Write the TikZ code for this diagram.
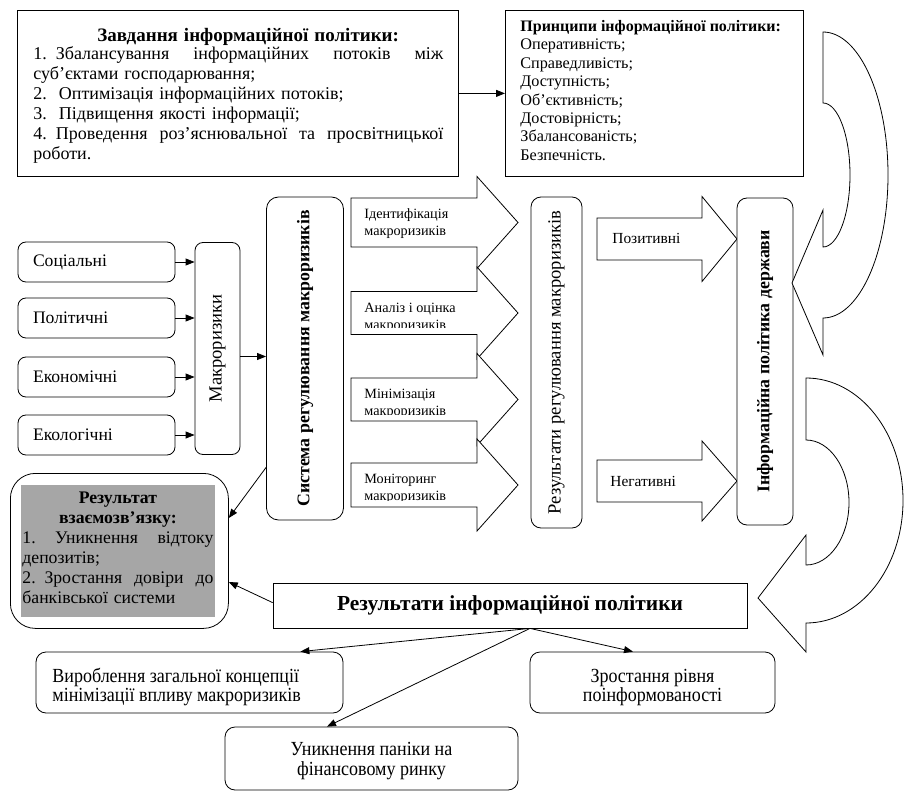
\documentclass[tikz,border=0pt]{standalone}
\usepackage{fontspec}
\setmainfont{Liberation Serif}
\newfontfamily\condfont[FakeStretch=0.9]{Liberation Serif}
\usetikzlibrary{arrows.meta,calc}
\definecolor{grayfill}{RGB}{166,166,166}
% #1 x0, #2 yc, #3 body right, #4 tip x, #5 body half height, #6 head half height
\newcommand\blockarr[6]{%
  \draw[blk] (#1,{#2-#5}) -- (#3,{#2-#5}) -- (#3,{#2-#6}) -- (#4,#2) -- (#3,{#2+#6}) -- (#3,{#2+#5}) -- (#1,{#2+#5}) -- cycle;}
% justified line of given width
\newcommand\jline[2]{\makebox[#1][s]{\spaceskip=0pt\relax #2}}
\begin{document}
\begin{tikzpicture}[x=1pt,y=-1pt,line width=0.8pt,
  arr/.style={-{Triangle[length=9pt,width=7pt]}},
  sbox/.style={draw,fill=white,inner sep=0pt},
  rbox/.style={draw,fill=white,rounded corners=8pt,inner sep=0pt},
  blk/.style={draw,fill=white,line join=miter},
  txt/.style={inner sep=0pt},
  lbl/.style={inner sep=0pt,font=\fontsize{14.2}{16}\selectfont},
]
\useasboundingbox (0,0) rectangle (904,791);

% ---------- tasks ----------
\node[sbox,anchor=north west,minimum width=441,minimum height=166] (tasks) at (17,10) {};
\node[txt,anchor=north west,text width=410,align=left,font=\fontsize{18}{20}\selectfont] (taskstxt) at (33,28) {%
\hspace*{64pt}{\bfseries\fontsize{19}{20}\selectfont Завдання інформаційної політики:}\\[-2pt]
\jline{410pt}{1. Збалансування інформаційних потоків між}\\
суб’єктами господарювання;\\
2.\ \ Оптимізація інформаційних потоків;\\
3.\ \ Підвищення якості інформації;\\
\jline{410pt}{4. Проведення роз’яснювальної та просвітницької}\\
роботи.};

% ---------- principles ----------
\node[sbox,anchor=north west,minimum width=298,minimum height=166] (princ) at (505,10) {};
\node[txt,anchor=north west,align=left,font=\fontsize{16.2}{18.4}\selectfont] (princtxt) at (520,20) {%
{\bfseries\fontsize{16}{18.4}\selectfont Принципи інформаційної політики:}\\
Оперативність;\\
Справедливість;\\
Доступність;\\
Об’єктивність;\\
Достовірність;\\
Збалансованість;\\
Безпечність.};
\draw[arr] (tasks.east) -- (princ.west);

% ---------- factors ----------
\tikzset{fbox/.style={rbox,minimum width=157,minimum height=40,text width=127,align=left,font=\fontsize{17.6}{20}\selectfont}}
\node[fbox] (soc) at (96.5,262) {Соціальні};
\node[fbox] (pol) at (96.5,318) {Політичні};
\node[fbox] (eco) at (96.5,377) {Економічні};
\node[fbox] (ecl) at (96.5,435) {Екологічні};

\node[rbox,minimum width=45,minimum height=212] (makro) at (217.5,348.5) {};
\node[txt,rotate=90,font=\fontsize{18.6}{20}\selectfont] (makrotxt) at (makro.center) {Макроризики};

\draw[arr] (soc.east) -- (soc.east -| makro.west);
\draw[arr] (pol.east) -- (pol.east -| makro.west);
\draw[arr] (eco.east) -- (eco.east -| makro.west);
\draw[arr] (ecl.east) -- (ecl.east -| makro.west);

% ---------- system ----------
\node[rbox,rounded corners=12pt,minimum width=77,minimum height=323] (sys) at (305,358.5) {};
\node[txt,rotate=90,font=\bfseries\fontsize{17.8}{20}\selectfont] (systxt) at (sys.center) {Система регулювання макроризиків};
\coordinate (m1) at ($(makro.east)+(0,8)$);
\draw[arr] (m1) -- (m1 -| sys.west);

% ---------- block arrows ----------
\blockarr{351}{222.5}{477}{518}{24.5}{46}
\begin{scope}
\clip (352,199) rectangle (476,240);
\node[lbl,anchor=base west] (a1a) at (364,219) {Ідентифікація};
\node[lbl,anchor=base west] (a1b) at (364,235.5) {макроризиків};
\end{scope}
\blockarr{351}{313}{477}{518}{21.5}{46}
\begin{scope}
\clip (352,292.5) rectangle (476,327.5);
\node[lbl,anchor=base west] (a2a) at (364,312.5) {Аналіз і оцінка};
\node[lbl,anchor=base west] (a2b) at (364,329.5) {макроризиків};
\end{scope}
\blockarr{351}{399.5}{477}{518}{21.5}{46}
\begin{scope}
\clip (352,379) rectangle (476,414);
\node[lbl,anchor=base west] (a3a) at (364,398.5) {Мінімізація};
\node[lbl,anchor=base west] (a3b) at (364,415.5) {макроризиків};
\end{scope}
\blockarr{351}{485}{477}{518}{22}{46}
\begin{scope}
\clip (352,464) rectangle (476,500);
\node[lbl,anchor=base west] (a4a) at (364,483.5) {Моніторинг};
\node[lbl,anchor=base west] (a4b) at (364,500.5) {макроризиків};
\end{scope}

% ---------- results of regulation ----------
\node[rbox,rounded corners=10pt,minimum width=51,minimum height=331] (rr) at (556.5,362.5) {};
\node[txt,rotate=90,font=\fontsize{18.6}{20}\selectfont] (rrtxt) at (rr.center) {Результати регулювання макроризиків};

% ---------- positive / negative ----------
\blockarr{597}{239}{702}{737}{21}{42.5}
\node[txt,anchor=base west,font=\fontsize{15.4}{18}\selectfont] (pos) at (612,243.5) {Позитивні};
\blockarr{597}{481}{702}{737}{21}{40}
\node[txt,anchor=base west,font=\fontsize{15.4}{18}\selectfont] (neg) at (610,486) {Негативні};

% ---------- state information policy ----------
\node[rbox,rounded corners=10pt,minimum width=56,minimum height=327] (ip) at (765,361.5) {};
\node[txt,rotate=90,font=\bfseries\fontsize{17.8}{20}\selectfont] (iptxt) at (ip.center) {Інформаційна політика держави};

% ---------- curved arrows ----------
\draw[blk] (823,32) -- (823,103) arc[start angle=-90,end angle=90,x radius=27,y radius=72]
  -- (823,210) -- (792,283) -- (823,355) -- (823,318)
  arc[start angle=90,end angle=-90,x radius=65,y radius=143] -- cycle;
\draw[blk] (806,378) -- (806,440) arc[start angle=-90,end angle=90,x radius=43,y radius=62.5]
  -- (806,535) -- (758,598) -- (806,652) -- (806,623)
  arc[start angle=90,end angle=-90,x radius=97,y radius=122.5] -- cycle;

% ---------- result of interrelation ----------
\node[draw,fill=white,rounded corners=25pt,minimum width=218,minimum height=155,anchor=north west,inner sep=0pt] (resbox) at (10,473) {};
\node[fill=grayfill,minimum width=194,minimum height=132,anchor=north west,inner sep=0pt] (gray) at (21,485) {};
\node[txt,anchor=north west,text width=191,align=left,font=\fontsize{17.7}{20}\selectfont] (restxt) at (22,492) {%
\makebox[191pt]{\bfseries Результат}\\
\makebox[191pt]{\bfseries взаємозв’язку:}\\
\jline{191pt}{1.\ \ Уникнення \ відтоку}\\
депозитів;\\
\jline{191pt}{2. Зростання довіри до}\\
банківської системи};

% ---------- results of information policy ----------
\node[sbox,minimum width=474,minimum height=45,font=\bfseries\fontsize{21.4}{24}\selectfont] (respol) at (510,605.5) {Результати інформаційної політики};

\draw[arr] ($(sys.south west)+(0,-53)$) -- ($(resbox.north east)+(0,45)$);
\draw[arr] ($(respol.north west)+(0,20)$) -- ($(resbox.north east)+(0,109)$);

% ---------- bottom boxes ----------
\tikzset{bbox/.style={rbox,rounded corners=10pt},
  btxt/.style={txt,font=\condfont\fontsize{20}{19}\selectfont}}
\node[bbox,minimum width=307,minimum height=61] (vyr) at (189.5,682.5) {};
\node[btxt,anchor=west,align=left] (vyrtxt) at (52,687) {Вироблення загальної концепції\\мінімізації впливу макроризиків};
\node[bbox,minimum width=245,minimum height=61] (zr) at (652.5,682.5) {};
\node[btxt,align=center] (zrtxt) at (652.5,687) {Зростання рівня\\поінформованості};
\node[bbox,minimum width=293,minimum height=63] (un) at (371.5,758.5) {};
\node[btxt,align=center,font=\condfont\fontsize{20}{20}\selectfont] (untxt) at (371.5,761) {Уникнення паніки на\\фінансовому ринку};

\coordinate (fork) at ($(respol.south)+(20,0)$);
\draw[arr] (fork) -- ($(vyr.north east)+(-43,0)$);
\draw[arr] (fork) -- ($(zr.north)+(-19.5,0)$);
\draw[arr] (fork) -- ($(un.north)+(-44.5,0)$);
\end{tikzpicture}
\end{document}
